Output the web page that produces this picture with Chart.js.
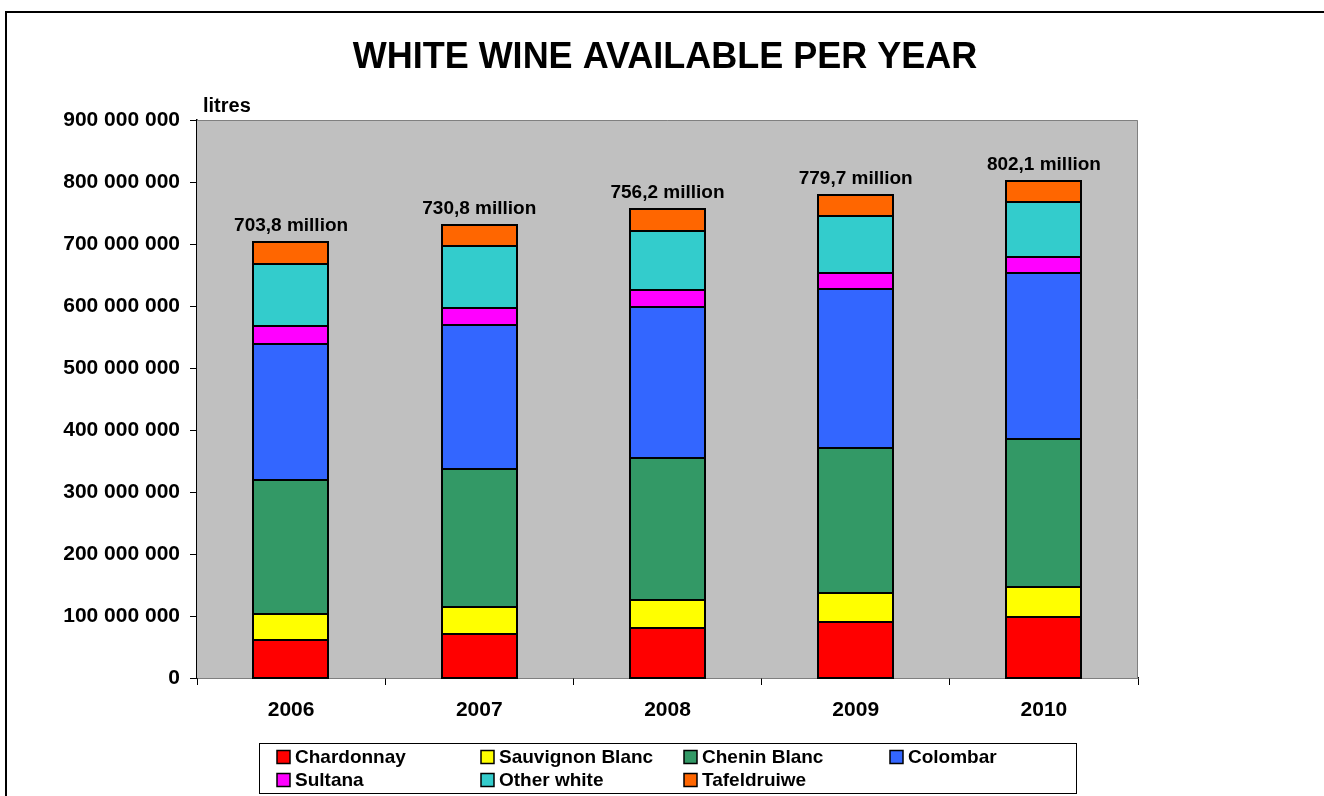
<!DOCTYPE html>
<html>
<head>
<meta charset="utf-8">
<title>White wine available per year</title>
<script src="https://cdn.jsdelivr.net/npm/chart.js@4/dist/chart.umd.min.js"></script>
<style>
  html, body { margin: 0; padding: 0; background: #fff; }
  canvas { display: block; }
</style>
</head>
<body>
<canvas id="wine" width="1324" height="796"></canvas>
<script>
// million litres per cultivar, 2006 - 2010
var years = ['2006', '2007', '2008', '2009', '2010'];
var chardonnay = [61.0, 70.5, 80.7, 90.4, 98.4];
var sauvignonBlanc = [42.0, 43.6, 45.2, 46.8, 48.4];
var cheninBlanc = [216.5, 223.8, 228.6, 233.5, 237.9];
var colombar = [219.0, 230.7, 244.2, 256.0, 268.8];
var sultana = [29.0, 28.5, 26.9, 25.9, 25.4];
var otherWhite = [100.6, 99.0, 95.2, 92.4, 88.2];
var tafeldruiwe = [35.7, 34.7, 35.4, 34.7, 35.0];
var yTicks = [0, 100, 200, 300, 400, 500, 600, 700, 800, 900];

var FONT = 'Arial, "Liberation Sans", sans-serif';

function series(label, values, color) {
  return {
    label: label,
    data: values.map(function (v) { return v * 1e6; }),
    backgroundColor: color,
    borderWidth: 0
  };
}

function spaced(n) {
  return String(Math.round(n)).replace(/\B(?=(\d{3})+(?!\d))/g, ' ');
}

// grey plot area, segment outlines, title, unit, totals, legend and outer frame
var decorations = {
  id: 'decorations',
  beforeDatasetsDraw: function (chart) {
    var ctx = chart.ctx, a = chart.chartArea;
    ctx.save();
    ctx.fillStyle = '#C0C0C0';
    ctx.fillRect(a.left, a.top, a.right - a.left, a.bottom - a.top);
    ctx.strokeStyle = '#808080';
    ctx.lineWidth = 1;
    ctx.beginPath();
    ctx.moveTo(a.left, a.top + 0.5);
    ctx.lineTo(a.right - 0.5, a.top + 0.5);
    ctx.lineTo(a.right - 0.5, a.bottom);
    ctx.stroke();
    ctx.restore();
  },
  afterDatasetsDraw: function (chart) {
    var ctx = chart.ctx;
    ctx.save();
    ctx.strokeStyle = '#000';
    ctx.lineWidth = 2;
    chart.data.datasets.forEach(function (ds, d) {
      chart.getDatasetMeta(d).data.forEach(function (el) {
        var x = Math.round(el.x - el.width / 2);
        var top = Math.round(el.y), bottom = Math.round(el.base);
        ctx.strokeRect(x, top, Math.round(el.width), bottom - top);
      });
    });
    ctx.restore();
  },
  afterDraw: function (chart) {
    var ctx = chart.ctx;
    var sets = chart.data.datasets;
    ctx.save();

    // frame
    ctx.strokeStyle = '#000';
    ctx.lineWidth = 2;
    ctx.beginPath();
    ctx.moveTo(6, 796);
    ctx.lineTo(6, 12);
    ctx.lineTo(1324, 12);
    ctx.stroke();

    ctx.fillStyle = '#000';
    ctx.textBaseline = 'middle';
    ctx.textAlign = 'center';
    ctx.font = 'bold 36px ' + FONT;
    ctx.fillText('WHITE WINE AVAILABLE PER YEAR', 665, 58);

    ctx.textAlign = 'left';
    ctx.textBaseline = 'alphabetic';
    ctx.font = 'bold 20px ' + FONT;
    ctx.fillText('litres', 203, 112);

    // totals above each stack
    ctx.textAlign = 'center';
    ctx.textBaseline = 'middle';
    ctx.font = 'bold 19px ' + FONT;
    var topMeta = chart.getDatasetMeta(sets.length - 1);
    years.forEach(function (y, i) {
      var total = 0;
      sets.forEach(function (ds) { total += ds.data[i]; });
      var bar = topMeta.data[i];
      var txt = (total / 1e6).toFixed(1).replace('.', ',') + ' million';
      ctx.fillText(txt, bar.x, bar.y - 16);
    });

    // legend
    ctx.lineWidth = 1;
    ctx.strokeRect(259.5, 743.5, 817, 50);
    var cols = [277, 481, 684, 890];
    var rows = [757, 780];
    ctx.textAlign = 'left';
    ctx.font = 'bold 19px ' + FONT;
    sets.forEach(function (ds, k) {
      var x = cols[k % 4], y = rows[Math.floor(k / 4)];
      ctx.fillStyle = ds.backgroundColor;
      ctx.fillRect(x, y - 6.5, 13, 13);
      ctx.strokeStyle = '#000';
      ctx.lineWidth = 1.5;
      ctx.strokeRect(x, y - 6.5, 13, 13);
      ctx.fillStyle = '#000';
      ctx.fillText(ds.label, x + 18, y + 1);
    });
    ctx.restore();
  }
};

new Chart(document.getElementById('wine'), {
  type: 'bar',
  data: {
    labels: years,
    datasets: [
      series('Chardonnay', chardonnay, '#FF0000'),
      series('Sauvignon Blanc', sauvignonBlanc, '#FFFF00'),
      series('Chenin Blanc', cheninBlanc, '#339966'),
      series('Colombar', colombar, '#3366FF'),
      series('Sultana', sultana, '#FF00FF'),
      series('Other white', otherWhite, '#33CCCC'),
      series('Tafeldruiwe', tafeldruiwe, '#FF6600')
    ]
  },
  options: {
    responsive: false,
    animation: false,
    layout: { padding: { left: 0, top: 120, right: 186, bottom: 58 } },
    datasets: { bar: { categoryPercentage: 1, barPercentage: 0.4 } },
    plugins: {
      legend: { display: false },
      title: { display: false },
      tooltip: { enabled: false }
    },
    scales: {
      x: {
        stacked: true,
        afterFit: function (s) { s.height = 60; },
        grid: { drawOnChartArea: false, tickLength: 7, tickColor: '#000', lineWidth: 1 },
        border: { color: '#000', width: 1.5 },
        ticks: { color: '#000', padding: 13, font: { family: FONT, size: 21, weight: 'bold' } }
      },
      y: {
        stacked: true,
        min: 0,
        max: yTicks[yTicks.length - 1] * 1e6,
        afterFit: function (s) { s.width = 197; },
        afterBuildTicks: function (s) {
          s.ticks = yTicks.map(function (v) { return { value: v * 1e6 }; });
        },
        grid: { drawOnChartArea: false, tickLength: 7, tickColor: '#000', lineWidth: 1 },
        border: { color: '#000', width: 1.5 },
        ticks: {
          color: '#000',
          padding: 10,
          font: { family: FONT, size: 21, weight: 'bold' },
          callback: function (v) { return spaced(v); }
        }
      }
    }
  },
  plugins: [decorations]
});
</script>
</body>
</html>
